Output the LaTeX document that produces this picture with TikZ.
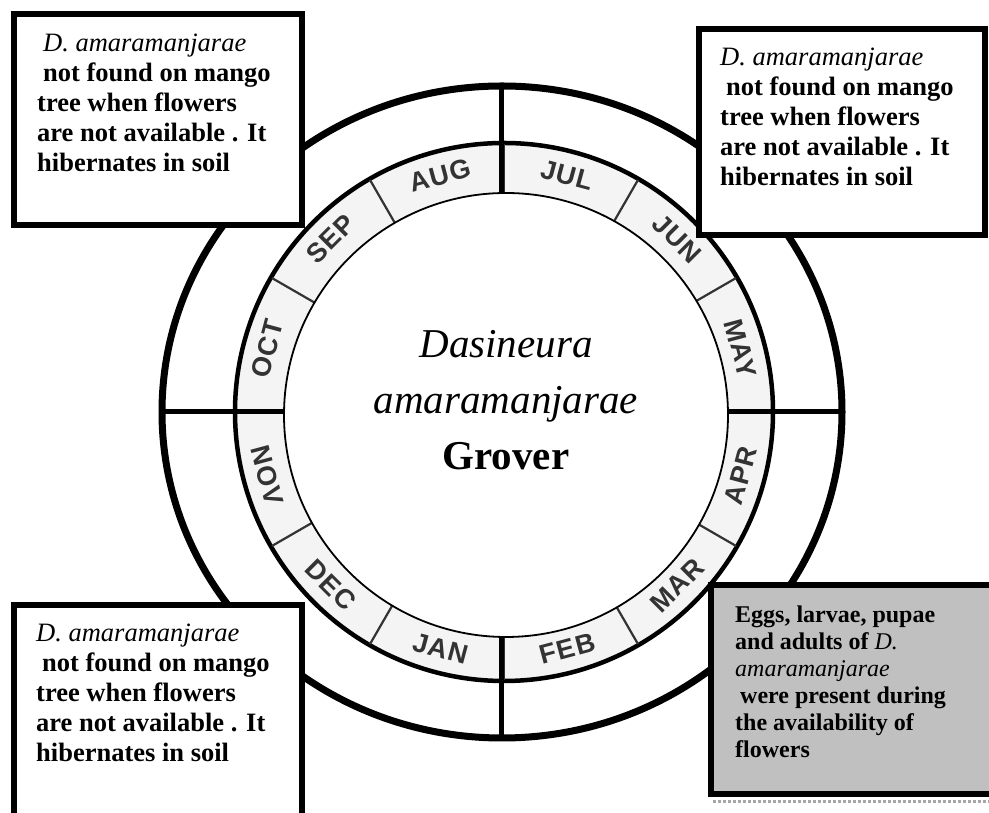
\documentclass[tikz,border=0pt]{standalone}
\usepackage{fontspec}
\setmainfont{Liberation Serif}
\newfontfamily\monthfont[LetterSpace=4]{Liberation Sans}
\definecolor{boxgrey}{HTML}{C0C0C0}
\definecolor{ringgrey}{HTML}{F4F4F4}
\definecolor{monthink}{HTML}{333333}
\begin{document}
\begin{tikzpicture}[x=1pt,y=1pt,
  month/.style={font=\monthfont\bfseries\fontsize{27}{27}\selectfont, text=monthink, inner sep=0pt},
  note/.style={font=\bfseries\fontsize{26.5}{30}\selectfont, align=left, anchor=base west, inner sep=0pt},
  notebox/.style={draw, line width=5.5pt, fill=white},
  title/.style={font=\fontsize{41}{41}\selectfont, anchor=base, inner sep=0pt}]
\useasboundingbox (0,0) rectangle (989,813);
% wheel
\coordinate (ctr) at (504,401);
\draw[line width=7pt, fill=white] (502,401) ellipse (340 and 326);
\draw[line width=4.5pt, fill=ringgrey] (ctr) circle (269);
\foreach \a in {0,30,...,330}
  \draw[line width=2.2pt, monthink] ([shift={(\a:205)}]ctr) -- ([shift={(\a:268)}]ctr);
\draw[line width=5pt] (162,401) -- (842,401);
\draw[line width=5pt] (501,728) -- (501,76);
\draw[line width=1.8pt, fill=white] (506,398) circle (222);
% months
\foreach \a/\m in {105/AUG,75/JUL,45/JUN,15/MAY,165/OCT,135/SEP}
  \node[month, rotate=\a-90] (m\m) at ([shift={(\a:245)}]ctr) {\m};
\foreach \a/\m in {-15/APR,-45/MAR,-75/FEB,-105/JAN,-135/DEC,-165/NOV}
  \node[month, rotate=\a+90] (m\m) at ([shift={(\a:245)}]ctr) {\m};
% name in the middle
\node[title] (tgenus) at (506,455) {\itshape Dasineura};
\node[title] (tspecies) at (506,399) {\itshape amaramanjarae};
\node[title] (tauthor) at (506,343) {\bfseries Grover};
% boxes (text nodes sit on the baseline of their last line)
\draw[notebox] (14,799) rectangle (302,588);
\node[note] (ntl) at (37,641) {\hspace*{6pt}{\normalfont\itshape D. amaramanjarae}\\
  \hspace*{6pt}not found on mango\\ tree when flowers\\ are not available . It\\ hibernates in soil};
\draw[notebox] (699,784) rectangle (985,578);
\node[note] (ntr) at (720,627) {{\normalfont\itshape D. amaramanjarae}\\
  \hspace*{6pt}not found on mango\\ tree when flowers\\ are not available . It\\ hibernates in soil};
\draw[notebox] (14,208) rectangle (302,-20);
\node[note] (nbl) at (36,51) {{\normalfont\itshape D. amaramanjarae}\\
  \hspace*{6pt}not found on mango\\ tree when flowers\\ are not available . It\\ hibernates in soil};
\draw[gray!70, line width=3pt, dotted] (713,11) -- (989,11);
\draw[notebox, fill=boxgrey] (711,228) rectangle (1000,19);
\node[note, font=\bfseries\fontsize{24}{27}\selectfont] (nbr) at (735,55) {Eggs, larvae, pupae\\
  and adults of {\normalfont\itshape D.}\\ {\normalfont\itshape amaramanjarae}\\
  \hspace*{5pt}were present during\\ the availability of\\ flowers};
\end{tikzpicture}
\end{document}
